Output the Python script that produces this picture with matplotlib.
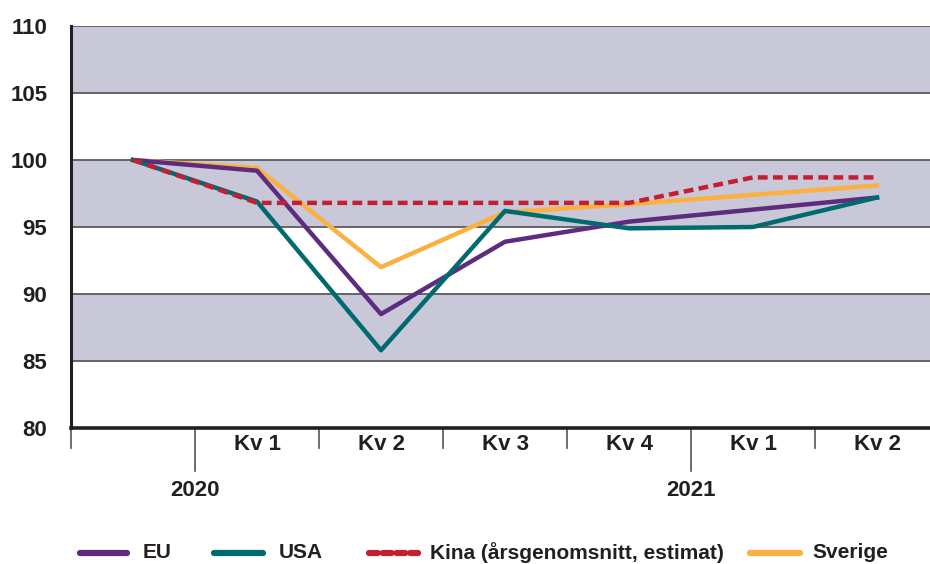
import matplotlib
matplotlib.use("Agg")
import matplotlib.pyplot as plt
from matplotlib.lines import Line2D

plt.rcParams['font.family'] = ['Liberation Sans', 'DejaVu Sans']
FS = 15

categories = ["", "Kv 1", "Kv 2", "Kv 3", "Kv 4", "Kv 1", "Kv 2"]
years = ["2020", "2021"]
year_starts = [1, 5]
eu = [100, 99.2, 88.5, 93.9, 95.4, 96.3, 97.2]
usa = [100, 96.9, 85.8, 96.2, 94.9, 95.0, 97.2]
kina = [100, 96.8, 96.8, 96.8, 96.8, 98.7, 98.7]
sverige = [100, 99.4, 92.0, 96.1, 96.7, 97.4, 98.1]
yticks = [80, 85, 90, 95, 100, 105, 110]
labels = ["EU", "USA", "Kina (årsgenomsnitt, estimat)", "Sverige"]

C_EU = "#5e2b7e"
C_USA = "#006a6e"
C_KINA = "#c21f32"
C_SVE = "#fbb040"
TXT = "#231f20"
BAND = "#c8c8d8"

fig = plt.figure(figsize=(9.3, 5.64), dpi=100)
W, H = 930, 564
x0, x1 = 71, 939
ytop, ybot = 26, 428
ax = fig.add_axes([x0 / W, 1 - ybot / H, (x1 - x0) / W, (ybot - ytop) / H])
n = len(categories)
ax.set_xlim(-0.5, n - 0.5)
ax.set_ylim(80, 110)

for lo in [85, 95, 105]:
    ax.axhspan(lo, lo + 5, color=BAND, zorder=0, lw=0)
for yv in [85, 90, 95, 100, 105, 110]:
    ax.axhline(yv, color="#5a5a5e", lw=1.3, zorder=1)

xs = list(range(n))
ax.plot(xs, eu, color=C_EU, lw=3.2, zorder=3)
ax.plot(xs, usa, color=C_USA, lw=3.2, zorder=3)
ax.plot(xs, kina, color=C_KINA, lw=3.2, zorder=4, dashes=(2.2, 1.2))
ax.plot(xs, sverige, color=C_SVE, lw=3.2, zorder=2)

for s in ["top", "right"]:
    ax.spines[s].set_visible(False)
ax.spines["left"].set_color(TXT)
ax.spines["left"].set_linewidth(2.2)
ax.spines["bottom"].set_color(TXT)
ax.spines["bottom"].set_linewidth(2.6)
ax.set_yticks(yticks)
ax.set_yticklabels([str(v) for v in yticks], fontsize=FS + 1, fontweight='bold', color=TXT)
ax.tick_params(axis='y', length=0, pad=17)
ax.set_xticks([])

trans = ax.get_xaxis_transform()
ph = ybot - ytop
for b in range(n):
    xb = b - 0.5
    long = b in year_starts
    ax.plot([xb, xb], [0, -(43 if long else 20) / ph], transform=trans,
            color="#555555", lw=1.2, clip_on=False)
for i, c in enumerate(categories):
    if c:
        ax.text(i, -17 / ph, c, transform=trans, ha='center', va='center',
                fontsize=FS + 1, fontweight='bold', color=TXT)
for yr, st in zip(years, year_starts):
    ax.text(st - 0.5, -62 / ph, yr, transform=trans, ha='center', va='center',
            fontsize=FS + 1, fontweight='bold', color=TXT)

# legend drawn manually at the reference positions (pixels)
leg_y = 1 - 553 / H
colors = [C_EU, C_USA, C_KINA, C_SVE]
line_x = [(80, 127), (214, 263), (369, 418), (750, 800)]
text_x = [143, 279, 430, 812]
for lab, col, (a, b), tx in zip(labels, colors, line_x, text_x):
    kw = dict(color=col, lw=4.5, solid_capstyle='round')
    if col == C_KINA:
        kw = dict(color=col, lw=4.5, dashes=(1.4, 0.8), dash_capstyle='round')
    fig.add_artist(Line2D([a / W, b / W], [leg_y, leg_y], transform=fig.transFigure, **kw))
    fig.text(tx / W, leg_y, lab, ha='left', va='center', fontsize=FS, fontweight='bold', color=TXT)

fig.savefig("out.png", dpi=100)
